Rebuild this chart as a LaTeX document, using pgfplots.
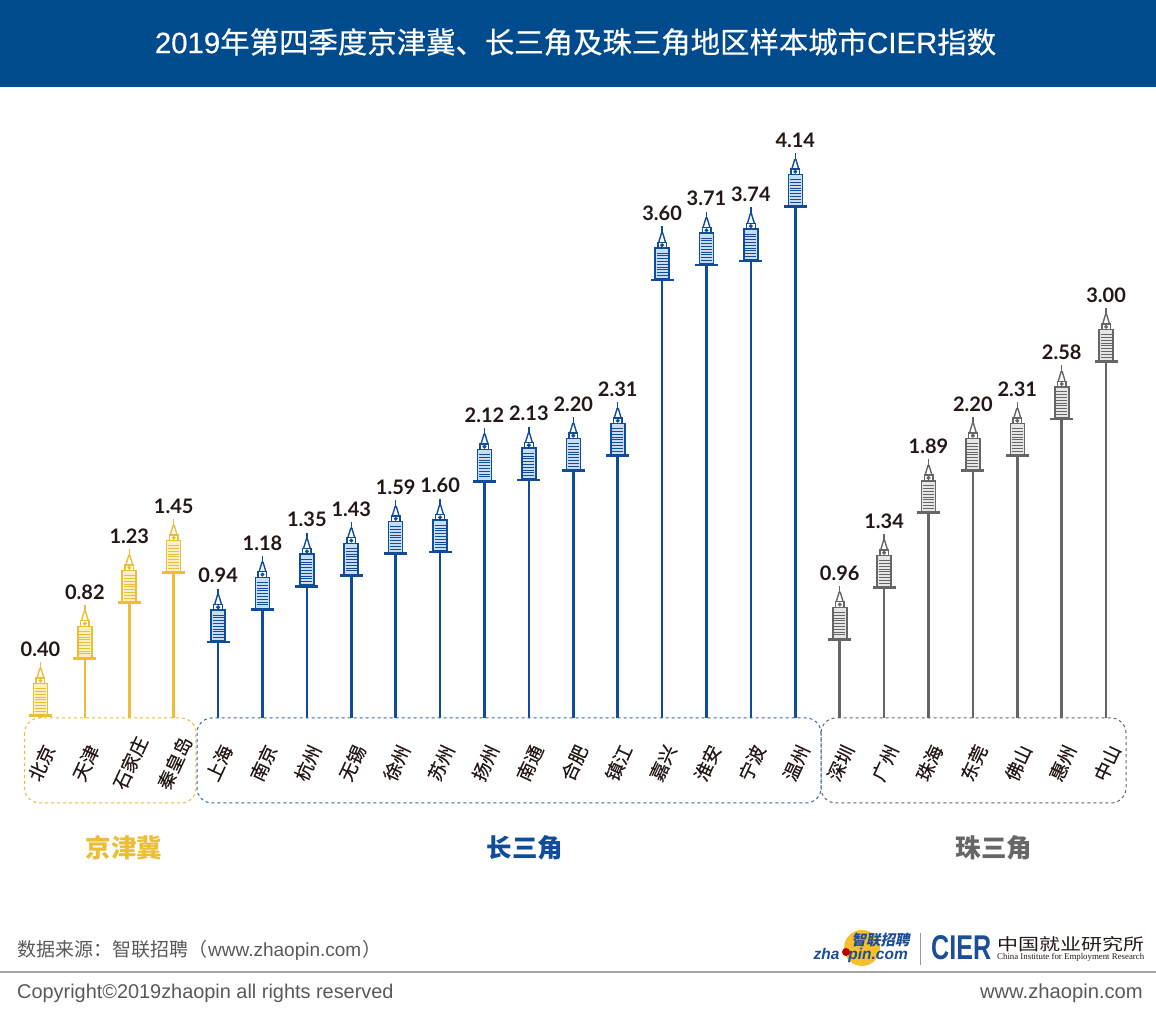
\documentclass[border=0pt]{standalone}
\usepackage{fontspec}
\usepackage{pgfplots}
\pgfplotsset{compat=1.18}
\setmainfont{Liberation Sans}
\newfontfamily\cjk{Noto Sans CJK SC}
\newfontfamily\citycjk[FakeBold=0.25]{Noto Sans CJK SC}
\newfontfamily\num{Lato}
\newfontfamily\serifsm{Liberation Serif}
\newfontfamily\titlelat[FakeBold=0.5]{Liberation Sans}
\newfontfamily\titlecjk[FakeBold=0.5]{Noto Sans CJK SC}

\definecolor{band}{HTML}{004A8E}
\definecolor{cyel}{HTML}{EBBE35}
\definecolor{cblu}{HTML}{0F4D9C}
\definecolor{cgry}{HTML}{666666}
\definecolor{tyel}{HTML}{FBF0C4}
\definecolor{tblu}{HTML}{C9DDF2}
\definecolor{tgry}{HTML}{E6E6E6}
\definecolor{ink}{HTML}{231815}
\definecolor{foot}{HTML}{595959}
\definecolor{logob}{HTML}{1C4E96}
\definecolor{logoy}{HTML}{F5C02A}

% syringe drawn upward from the flange, sizes in reference pixels
\pgfdeclareplotmark{syringe}{%
  \pgfsetlinewidth{2.6pt}%
  \pgfpathmoveto{\pgfqpoint{-11.5pt}{0pt}}\pgfpathlineto{\pgfqpoint{11.5pt}{0pt}}\pgfusepathqstroke
  \pgfsetlinewidth{1.6pt}%
  \pgfpathrectangle{\pgfqpoint{-7pt}{1pt}}{\pgfqpoint{14pt}{31pt}}\pgfusepathqfillstroke
  \pgfsetlinewidth{0.9pt}%
  \foreach \s in {4.5,7.3,...,29.5}{%
    \pgfpathmoveto{\pgfqpoint{-5.5pt}{\s pt}}\pgfpathlineto{\pgfqpoint{5.5pt}{\s pt}}\pgfusepathqstroke}%
  \pgfsetlinewidth{1.4pt}%
  \pgfpathrectangle{\pgfqpoint{-4.3pt}{32pt}}{\pgfqpoint{8.6pt}{5.6pt}}\pgfusepathqstroke
  \pgfpathcircle{\pgfqpoint{0pt}{34.8pt}}{1.2pt}\pgfusepathqstroke
  \pgfpathmoveto{\pgfqpoint{-3.3pt}{38pt}}\pgfpathlineto{\pgfqpoint{-0.6pt}{47pt}}%
  \pgfpathlineto{\pgfqpoint{0.6pt}{47pt}}\pgfpathlineto{\pgfqpoint{3.3pt}{38pt}}\pgfusepathqstroke
  \pgfsetlinewidth{1.3pt}%
  \pgfpathmoveto{\pgfqpoint{0pt}{47pt}}\pgfpathlineto{\pgfqpoint{0pt}{53.5pt}}\pgfusepathqstroke
}

\begin{document}
\begin{tikzpicture}[x=1pt,y=1pt]
\fill[band] (0,937) rectangle (1156,1024);
\node[text=white,font=\titlelat\fontsize{29.4}{32}\selectfont] at (575.5,982)
  {2019{\titlecjk 年第四季度京津冀、长三角及珠三角地区样本城市}CIER{\titlecjk 指数}};
\begin{axis}[
  at={(0,0)},anchor=south west,
  scale only axis,width=1156pt,height=1024pt,
  xmin=-0.912,xmax=25.124,ymin=-1.8663,ymax=5.6576,
  set layers=axis on top,
  clip=false,
  axis line style={draw=none},
  major tick length=0pt,
  ytick=\empty,
  xtick={0,...,24},
  xticklabels={北京,天津,石家庄,秦皇岛,上海,南京,杭州,无锡,徐州,苏州,扬州,南通,合肥,镇江,嘉兴,淮安,宁波,温州,深圳,广州,珠海,东莞,佛山,惠州,中山},
  xticklabel style={yshift=261pt,xshift=1pt,rotate=65,anchor=center,text=ink,font=\citycjk\fontsize{18.5}{20}\selectfont},
  nodes near coords,
  every node near coord/.append style={anchor=center,yshift=66.5pt,text=ink,
    font=\num\bfseries\fontsize{20}{22}\selectfont},
  /pgf/number format/.cd,fixed,fixed zerofill,precision=2,assume math mode=true,
  /pgfplots/.cd,
  every axis plot/.append style={ycomb,line width=2.7pt,mark=syringe},
]
\addplot[color=cyel,mark options={color=cyel,fill=tyel}] coordinates {(0,0.40) (1,0.82) (2,1.23) (3,1.45)};
\addplot[color=cblu,mark options={color=cblu,fill=tblu}] coordinates {(4,0.94) (5,1.18) (6,1.35) (7,1.43) (8,1.59) (9,1.60) (10,2.12) (11,2.13) (12,2.20) (13,2.31) (14,3.60) (15,3.71) (16,3.74) (17,4.14)};
\addplot[color=cgry,mark options={color=cgry,fill=tgry}] coordinates {(18,0.96) (19,1.34) (20,1.89) (21,2.20) (22,2.31) (23,2.58) (24,3.00)};
% white panels hide the stems below the city boxes
\fill[white] (axis cs:-0.6,-0.6) rectangle (axis cs:24.8,0.382);
\draw[cyel,dashed,line width=1pt,rounded corners=15pt] (axis cs:-0.358,0.382) rectangle (axis cs:3.502,-0.2425);
\draw[cgry,dashed,line width=1pt,rounded corners=15pt] (axis cs:17.579,0.382) rectangle (axis cs:24.448,-0.2425);
\draw[cblu!85,dashed,line width=1pt,rounded corners=15pt] (axis cs:3.525,0.382) rectangle (axis cs:17.579,-0.2425);
\end{axis}
\node[text=cyel,font=\cjk\bfseries\fontsize{25.5}{27}\selectfont] at (124,176.5) {京津冀};
\node[text=cblu,font=\cjk\bfseries\fontsize{25.5}{27}\selectfont] at (525,176.5) {长三角};
\node[text=cgry,font=\cjk\bfseries\fontsize{25.5}{27}\selectfont] at (994,176.5) {珠三角};
% footer
\node[anchor=west,inner sep=0pt,text=foot,font=\fontsize{19}{22}\selectfont] at (17,74)
  {{\cjk 数据来源：智联招聘（}\hspace{1pt}www.zhaopin.com\hspace{1pt}{\cjk ）}};
\draw[color=black!35,line width=1.2pt] (0,52) -- (1156,52);
\node[anchor=west,inner sep=0pt,text=foot,font=\fontsize{19.9}{22}\selectfont] at (17,31) {Copyright©2019zhaopin all rights reserved};
\node[anchor=east,inner sep=0pt,text=foot,font=\fontsize{20.2}{22}\selectfont] at (1143,31) {www.zhaopin.com};
% logos
\fill[logoy] (862,76) circle (18);
\node[anchor=east,inner sep=0pt,text=logob,xslant=0.2,font=\cjk\bfseries\fontsize{14.5}{15}\selectfont] at (911,84) {智联招聘};
\node[anchor=east,inner sep=0pt,text=logob,font=\bfseries\itshape\fontsize{15.5}{16}\selectfont] at (908,69) {zha\hspace{9pt}pin.com};
\fill[red!75!black] (846,72) circle (4);
\draw[black!40,line width=0.8pt] (920.5,59) -- (920.5,91);
\node[anchor=west,inner sep=0pt,text=logob,font=\bfseries\fontsize{33}{34}\selectfont] at (931,76) {\resizebox{60pt}{24pt}{CIER}};
\node[anchor=west,inner sep=0pt,text=ink,font=\cjk\fontsize{17}{18}\selectfont] at (997,80) {\resizebox{147pt}{14pt}{中国就业研究所}};
\node[anchor=west,inner sep=0pt,text=ink,font=\serifsm\fontsize{10}{11}\selectfont] at (997,67) {\resizebox{147pt}{!}{China Institute for Employment Research}};
\pgfresetboundingbox
\useasboundingbox (0,0) rectangle (1156,1024);
\end{tikzpicture}
\end{document}
